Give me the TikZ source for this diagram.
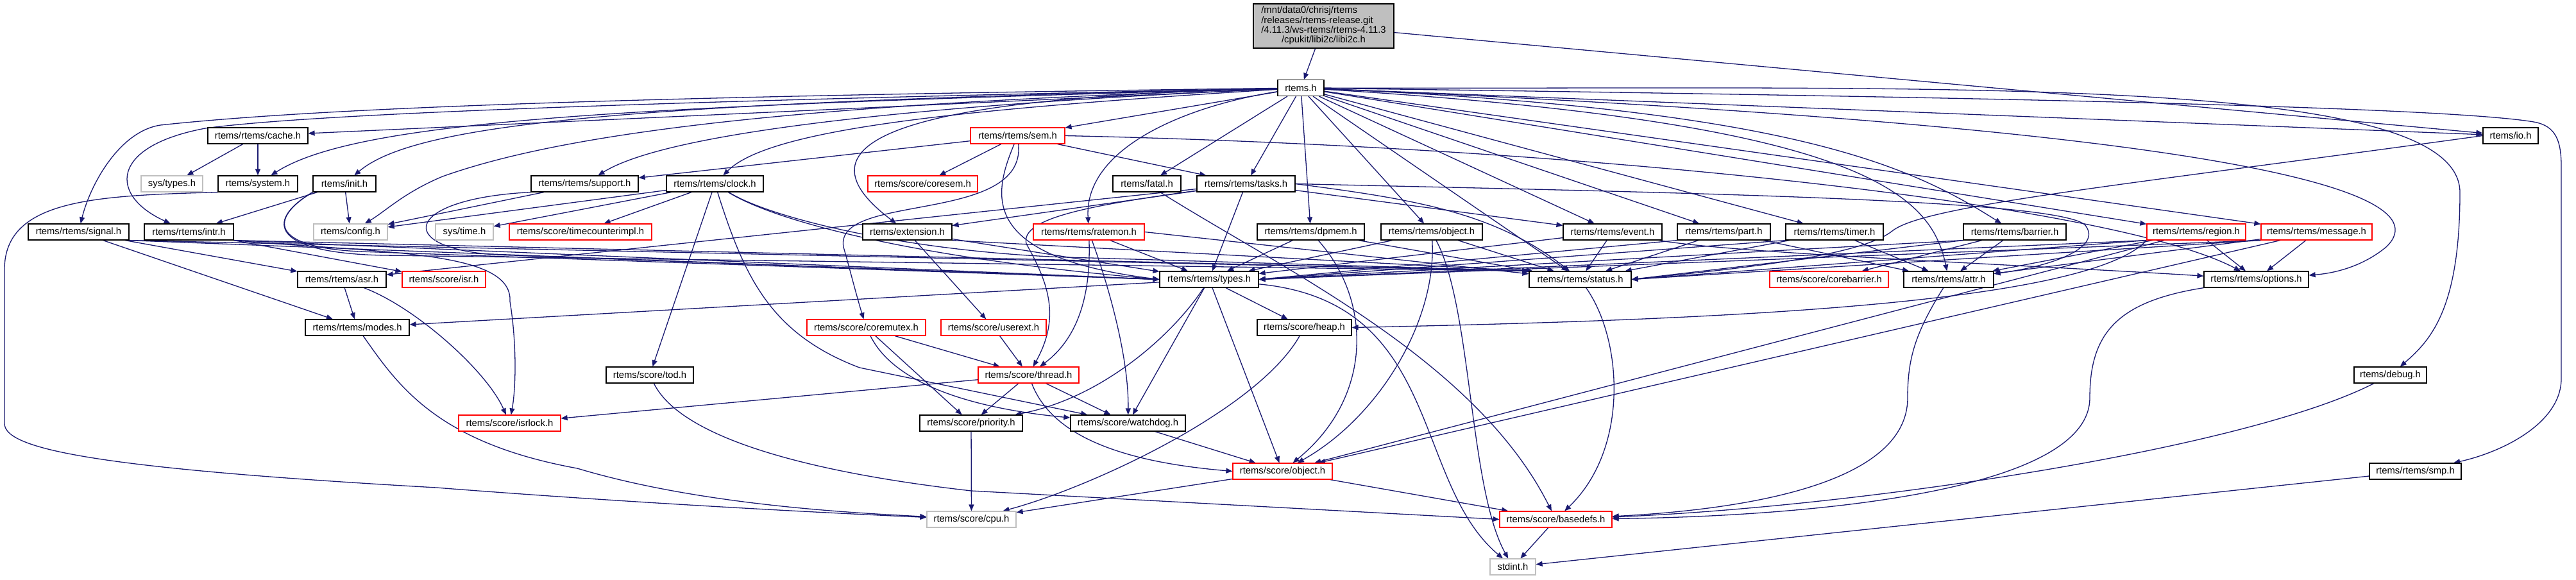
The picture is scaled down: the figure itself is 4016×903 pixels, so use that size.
\documentclass[tikz,border=0pt]{standalone}
\usepackage{fontspec}
\setmainfont{Liberation Sans}
\usetikzlibrary{arrows.meta}
\definecolor{mblue}{HTML}{191970}
\definecolor{gsev}{HTML}{BFBFBF}
\newcommand\dxf{\fontsize{14.8}{15}\selectfont}
\pgfdeclarelayer{paper}
\pgfdeclarelayer{edges}
\pgfsetlayers{paper,edges,main}
\begin{document}
\begin{tikzpicture}[x=1pt,y=-1pt,
  nb/.style={draw=black, fill=white, line width=1.2pt, minimum height=25pt, inner sep=0pt, font=\dxf},
  ngr/.style={nb, draw=gsev},
  nred/.style={nb, draw=red},
  edg/.style={draw=mblue, line width=1.3pt, -{Triangle[length=10pt,width=8pt]}}]
\begin{pgfonlayer}{paper}
\fill[white] (0,0) rectangle (4016,903);
\end{pgfonlayer}
\useasboundingbox (0,0) rectangle (4016,903);
% nodes
\node[nb, fill=gsev, minimum width=219pt, minimum height=69pt] (top) at (2063.5,40.5)
  {\begin{tabular}{@{}l@{}}/mnt/data0/chrisj/rtems\\/releases/rtems-release.git\\/4.11.3/ws-rtems/rtems-4.11.3\\\multicolumn{1}{@{}c@{}}{/cpukit/libi2c/libi2c.h}\end{tabular}};
\node[nb, minimum width=72pt] (rtems) at (2028,137) {rtems.h};
\node[nb, minimum width=156pt] (cache) at (402,211.5) {rtems/rtems/cache.h};
\node[nred, minimum width=147pt] (sem) at (1586.5,211.5) {rtems/rtems/sem.h};
\node[nb, minimum width=86pt] (io) at (3914,211.5) {rtems/io.h};
\node[ngr, minimum width=96pt] (systypes) at (268,286.5) {sys/types.h};
\node[nb, minimum width=124pt] (system) at (402,286.5) {rtems/system.h};
\node[nb, minimum width=98pt] (init) at (537,286.5) {rtems/init.h};
\node[nb, minimum width=167pt] (support) at (911.5,286.5) {rtems/rtems/support.h};
\node[nb, minimum width=151pt] (clock) at (1114.5,286.5) {rtems/rtems/clock.h};
\node[nred, minimum width=171pt] (coresem) at (1438.5,286.5) {rtems/score/coresem.h};
\node[nb, minimum width=106pt] (fatal) at (1788,286.5) {rtems/fatal.h};
\node[nb, minimum width=153pt] (tasks) at (1942.5,286.5) {rtems/rtems/tasks.h};
\node[nb, minimum width=157pt] (signal) at (122.5,361.5) {rtems/rtems/signal.h};
\node[nb, minimum width=139pt] (intr) at (294.5,361.5) {rtems/rtems/intr.h};
\node[ngr, minimum width=115pt] (config) at (546.5,361.5) {rtems/config.h};
\node[ngr, minimum width=90pt] (systime) at (724,361.5) {sys/time.h};
\node[nred, minimum width=222pt] (timecounter) at (905,361.5) {rtems/score/timecounterimpl.h};
\node[nb, minimum width=139pt] (extension) at (1414.5,361.5) {rtems/extension.h};
\node[nred, minimum width=173pt] (ratemon) at (1697.5,361.5) {rtems/rtems/ratemon.h};
\node[nb, minimum width=167pt] (dpmem) at (2043.5,361.5) {rtems/rtems/dpmem.h};
\node[nb, minimum width=158pt] (robject) at (2232,361.5) {rtems/rtems/object.h};
\node[nb, minimum width=154pt] (event) at (2514,361.5) {rtems/rtems/event.h};
\node[nb, minimum width=145pt] (part) at (2687.5,361.5) {rtems/rtems/part.h};
\node[nb, minimum width=152pt] (timer) at (2860,361.5) {rtems/rtems/timer.h};
\node[nb, minimum width=160pt] (barrier) at (3141,361.5) {rtems/rtems/barrier.h};
\node[nred, minimum width=154pt] (region) at (3424,361.5) {rtems/rtems/region.h};
\node[nred, minimum width=173pt] (message) at (3611.5,361.5) {rtems/rtems/message.h};
\node[nb, minimum width=138pt] (asr) at (533,435.5) {rtems/rtems/asr.h};
\node[nred, minimum width=130pt] (isr) at (692,435.5) {rtems/score/isr.h};
\node[nb, minimum width=154pt] (types) at (1885,435.5) {rtems/rtems/types.h};
\node[nb, minimum width=159pt] (status) at (2463.5,435.5) {rtems/rtems/status.h};
\node[nred, minimum width=185pt] (corebarrier) at (2851.5,435.5) {rtems/score/corebarrier.h};
\node[nb, minimum width=140pt] (attr) at (3038,435.5) {rtems/rtems/attr.h};
\node[nb, minimum width=163pt] (options) at (3517.5,435.5) {rtems/rtems/options.h};
\node[nb, minimum width=162pt] (modes) at (557,510.5) {rtems/rtems/modes.h};
\node[nred, minimum width=185pt] (coremutex) at (1350.5,510.5) {rtems/score/coremutex.h};
\node[nred, minimum width=164pt] (userext) at (1549,510.5) {rtems/score/userext.h};
\node[nb, minimum width=147pt] (heap) at (2033.5,510.5) {rtems/score/heap.h};
\node[nb, minimum width=136pt] (tod) at (1013,584.5) {rtems/score/tod.h};
\node[nred, minimum width=157pt] (thread) at (1603.5,584.5) {rtems/score/thread.h};
\node[nb, minimum width=113pt] (debug) at (3726.5,584.5) {rtems/debug.h};
\node[nred, minimum width=159pt] (isrlock) at (794.5,659.5) {rtems/score/isrlock.h};
\node[nb, minimum width=160pt] (priority) at (1514,659.5) {rtems/score/priority.h};
\node[nb, minimum width=179pt] (watchdog) at (1758.5,659.5) {rtems/score/watchdog.h};
\node[nred, minimum width=155pt] (sobject) at (1999.5,734.5) {rtems/score/object.h};
\node[nb, minimum width=143pt] (smp) at (3765.5,734.5) {rtems/rtems/smp.h};
\node[ngr, minimum width=139pt] (cpu) at (1514.5,809.5) {rtems/score/cpu.h};
\node[nred, minimum width=175pt] (basedefs) at (2425.5,809.5) {rtems/score/basedefs.h};
\node[ngr, minimum width=71pt] (stdint) at (2358.5,883.5) {stdint.h};
% edges
\begin{pgfonlayer}{edges}
\draw[edg] (top) -- (rtems);
\draw[edg] (top) -- (io);
% rtems.h
\draw[edg] (rtems) -- (cache);
\draw[edg] (rtems) .. controls (1000,165) and (560,185) .. (system);
\draw[edg] (rtems) .. controls (1000,160) and (650,190) .. (init);
\draw[edg] (rtems) .. controls (1000,150) and (500,168) .. (250,195) .. controls (185,205) and (140,290) .. (signal);
\draw[edg] (rtems) .. controls (1000,158) and (480,178) .. (320,200) .. controls (170,228) and (170,305) .. (intr);
\draw[edg] (rtems) .. controls (1300,160) and (900,200) .. (690,275) .. controls (630,300) and (600,330) .. (config);
\draw[edg] (rtems) .. controls (1500,160) and (1050,200) .. (support);
\draw[edg] (rtems) .. controls (1500,170) and (1200,200) .. (clock);
\draw[edg] (rtems) -- (sem);
\draw[edg] (rtems) -- (fatal);
\draw[edg] (rtems) -- (tasks);
\draw[edg] (rtems) .. controls (1500,150) and (1200,200) .. (extension);
\draw[edg] (rtems) .. controls (1850,165) and (1690,230) .. (ratemon);
\draw[edg] (rtems) -- (dpmem);
\draw[edg] (rtems) -- (robject);
\draw[edg] (rtems) -- (event);
\draw[edg] (rtems) -- (part);
\draw[edg] (rtems) -- (timer);
\draw[edg] (rtems) .. controls (2800,170) and (2980,260) .. (barrier);
\draw[edg] (rtems) -- (region);
\draw[edg] (rtems) -- (message);
\draw[edg] (rtems) -- (io);
\draw[edg] (rtems) .. controls (3300,190) and (3830,280) .. (3720,385) .. controls (3690,410) and (3650,425) .. (options);
\draw[edg] (rtems) .. controls (3000,140) and (3835,110) .. (3835,300) .. controls (3835,480) and (3790,530) .. (debug);
\draw[edg] (rtems) .. controls (3000,150) and (3800,165) .. (3950,190) .. controls (3985,196) and (3993,220) .. (3993,260) -- (3993,590) .. controls (3993,660) and (3900,705) .. (smp);
\draw[edg] (rtems) -- (status);
\draw[edg] (rtems) .. controls (2900,190) and (3010,300) .. (attr);
% cache, system, init
\draw[edg] (cache) -- (systypes);
\draw[edg] (cache) -- (system);
\draw[edg] (system.south west) .. controls (150,305) and (7,310) .. (7,420) -- (7,660) .. controls (7,700) and (150,730) .. (680,760) .. controls (1000,785) and (1300,800) .. (cpu);
\draw[edg] (init) -- (intr);
\draw[edg] (init) -- (config);
\draw[edg] (init.south west) .. controls (420,340) and (420,385) .. (560,392) -- (types.west);
\draw[edg] (init.south west) .. controls (410,345) and (425,395) .. (600,398) -- (status.north west);
% signal, intr, asr, modes
\draw[edg] (signal) -- (asr);
\draw[edg] (signal) -- (modes);
\draw[edg] (signal.south east) -- (types.west);
\draw[edg] (signal.south east) -- (status.north west);
\draw[edg] (intr) -- (isr);
\draw[edg] (intr.south east) -- (types.west);
\draw[edg] (intr.south east) -- (status.north west);
\draw[edg] (intr.south east) .. controls (600,395) and (800,390) .. (795,470) .. controls (805,530) and (805,600) .. (isrlock);
\draw[edg] (asr) -- (modes);
\draw[edg] (asr) .. controls (650,480) and (760,580) .. (isrlock);
\draw[edg] (modes) .. controls (620,600) and (680,690) .. (900,730) .. controls (1100,790) and (1350,800) .. (cpu);
% types and below
\draw[edg] (types) -- (modes);
\draw[edg] (types) -- (heap);
\draw[edg] (types) -- (sobject);
\draw[edg] (types) .. controls (1830,520) and (1720,620) .. (priority);
\draw[edg] (types) -- (watchdog);
\draw[edg] (types) .. controls (2250,470) and (2200,750) .. (stdint);
\draw[edg] (status) .. controls (2530,530) and (2540,700) .. (basedefs);
\draw[edg] (attr) .. controls (2985,520) and (2974,560) .. (2974,620) .. controls (2974,760) and (2700,795) .. (basedefs);
\draw[edg] (options.south west) .. controls (3300,470) and (3258,520) .. (3258,620) .. controls (3258,770) and (2800,805) .. (basedefs);
\draw[edg] (debug) .. controls (3500,700) and (2900,790) .. (basedefs);
\draw[edg] (smp) -- (stdint);
\draw[edg] (sobject) -- (basedefs);
\draw[edg] (sobject) -- (cpu);
\draw[edg] (basedefs) -- (stdint);
\draw[edg] (priority) -- (cpu);
\draw[edg] (watchdog) -- (sobject);
\draw[edg] (heap) .. controls (1960,640) and (1700,760) .. (cpu);
\draw[edg] (tod) .. controls (1060,680) and (1250,735) .. (1514,765) -- (basedefs.west);
\draw[edg] (thread) -- (priority);
\draw[edg] (thread) -- (watchdog);
\draw[edg] (thread) .. controls (1640,680) and (1750,720) .. (sobject.west);
\draw[edg] (thread) -- (isrlock);
\draw[edg] (coremutex) -- (thread);
\draw[edg] (coremutex) -- (priority);
\draw[edg] (coremutex) .. controls (1400,610) and (1550,640) .. (watchdog);
\draw[edg] (userext) -- (thread);
% extension, ratemon, tasks, fatal
\draw[edg] (extension) -- (userext);
\draw[edg] (extension) -- (types);
\draw[edg] (extension.south east) -- (status.north west);
\draw[edg] (ratemon) -- (types);
\draw[edg] (ratemon.east) -- (status);
\draw[edg] (ratemon) .. controls (1700,440) and (1690,520) .. (thread);
\draw[edg] (ratemon) .. controls (1730,450) and (1760,560) .. (watchdog);
\draw[edg] (tasks) -- (types);
\draw[edg] (tasks.east) .. controls (2200,310) and (2330,330) .. (status);
\draw[edg] (tasks) -- (event);
\draw[edg] (tasks) -- (extension);
\draw[edg] (tasks) -- (asr);
\draw[edg] (tasks) .. controls (1700,320) and (1590,340) .. (1600,380) .. controls (1640,450) and (1650,500) .. (thread);
\draw[edg] (tasks.east) .. controls (2600,300) and (3200,310) .. (3250,350) .. controls (3280,385) and (3200,415) .. (attr);
\draw[edg] (fatal) .. controls (2000,420) and (2300,560) .. (basedefs);
% sem
\draw[edg] (sem) -- (coresem);
\draw[edg] (sem) -- (tasks);
\draw[edg] (sem) -- (support);
\draw[edg] (sem.east) .. controls (2500,230) and (3300,320) .. (options);
\draw[edg] (sem) .. controls (1550,300) and (1520,400) .. (types.west);
\draw[edg] (sem) .. controls (1600,350) and (1300,300) .. (1315,385) .. controls (1325,420) and (1335,460) .. (coremutex);
% support, clock
\draw[edg] (support) -- (config);
\draw[edg] (support.south west) .. controls (620,310) and (610,395) .. (800,398) -- (types.west);
\draw[edg] (clock) -- (config);
\draw[edg] (clock) -- (systime);
\draw[edg] (clock) -- (timecounter);
\draw[edg] (clock) -- (tod);
\draw[edg] (clock) .. controls (1160,430) and (1200,520) .. (1340,573) -- (watchdog);
\draw[edg] (clock) .. controls (1200,340) and (1400,400) .. (types.west);
\draw[edg] (clock) .. controls (1210,345) and (1450,398) .. (1700,402) -- (status.north west);
% event, object, dpmem
\draw[edg] (event) -- (types);
\draw[edg] (event) -- (status);
\draw[edg] (event) .. controls (2700,395) and (3200,415) .. (options);
\draw[edg] (robject) -- (types);
\draw[edg] (robject) -- (status);
\draw[edg] (robject) .. controls (2240,500) and (2150,650) .. (sobject);
\draw[edg] (robject) .. controls (2295,480) and (2290,760) .. (stdint);
\draw[edg] (dpmem) -- (types);
\draw[edg] (dpmem) -- (status);
\draw[edg] (dpmem) .. controls (2140,470) and (2140,620) .. (sobject);
% part, timer, barrier
\draw[edg] (part.south west) -- (types.east);
\draw[edg] (part) -- (status);
\draw[edg] (part) -- (attr);
\draw[edg] (timer.south west) -- (types.east);
\draw[edg] (timer) -- (status);
\draw[edg] (timer) -- (attr);
\draw[edg] (barrier.south west) -- (types.east);
\draw[edg] (barrier.south west) -- (status.east);
\draw[edg] (barrier) -- (attr);
\draw[edg] (barrier) -- (corebarrier);
% region, message, io
\draw[edg] (region.south west) -- (types.east);
\draw[edg] (region.south west) -- (status.east);
\draw[edg] (region) -- (attr);
\draw[edg] (region) -- (options);
\draw[edg] (region.south west) .. controls (3250,480) and (2600,500) .. (heap.east);
\draw[edg] (region) -- (sobject);
\draw[edg] (message.south west) -- (types.east);
\draw[edg] (message.south west) -- (status.east);
\draw[edg] (message) -- (attr);
\draw[edg] (message) -- (options);
\draw[edg] (message) -- (sobject);
\draw[edg] (io.west) .. controls (3300,290) and (3000,320) .. (2950,360) .. controls (2900,400) and (2700,420) .. (status.east);
\end{pgfonlayer}
\end{tikzpicture}
\end{document}
